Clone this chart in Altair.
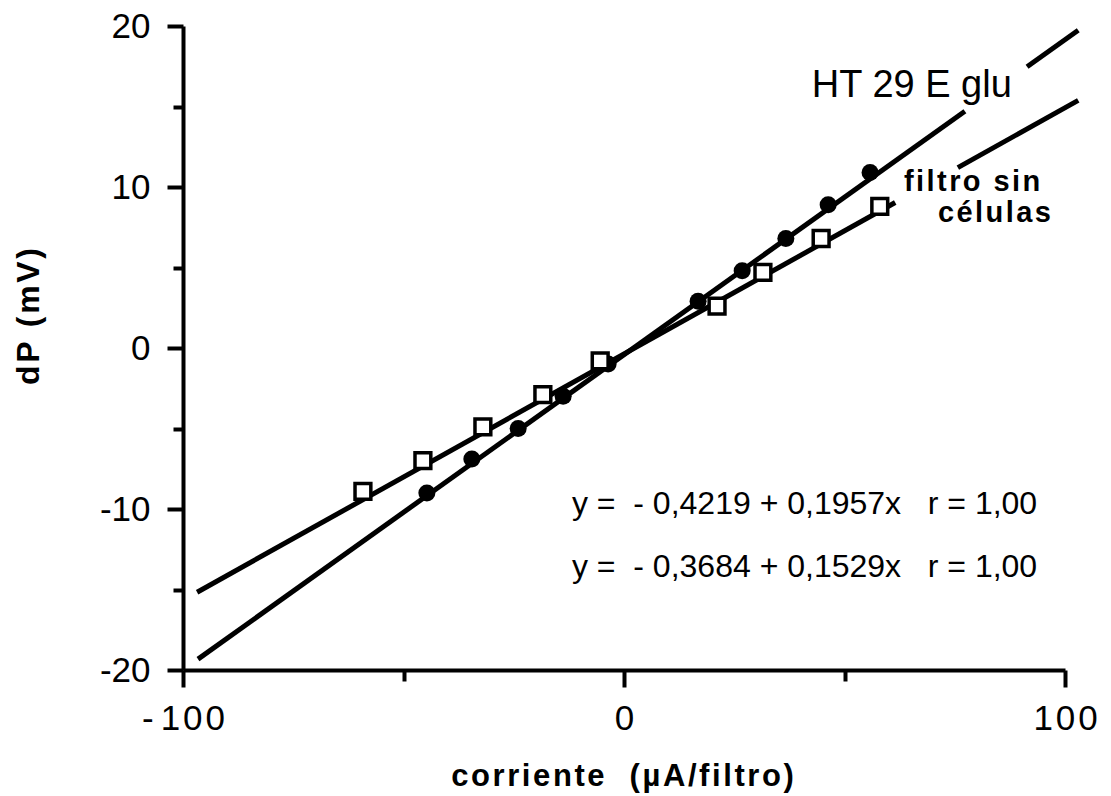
import altair as alt
import pandas as pd

# Measured points: HT 29 E glu monolayer (filled) and bare filter (open squares)
ht_x = [-44.7, -34.5, -24.0, -13.8, -3.6, 16.8, 26.8, 36.7, 46.3, 55.8]
ht_y = [-9.0, -6.9, -5.0, -3.0, -1.0, 2.9, 4.8, 6.8, 8.9, 10.9]
fil_x = [-59.2, -45.6, -32.0, -18.4, -5.4, 21.1, 31.5, 44.7, 58.0]
fil_y = [-8.9, -7.0, -4.9, -2.9, -0.8, 2.6, 4.7, 6.8, 8.8]

# Regression coefficients (intercept, slope) as printed on the chart
ht_fit = (-0.4219, 0.1957)
fil_fit = (-0.3684, 0.1529)

# x spans of the fitted lines (broken where the labels sit)
ht_spans = [(-96.6, 77.3), (91.4, 103.0)]
fil_spans = [(-96.8, 61.5), (75.7, 103.0)]

FONT = "Liberation Sans"
HAIR = "\u200a"
NBSP = "\u00a0"


def tracked(s):
    """Spread a string out with hair spaces between its characters."""
    return HAIR.join(s.replace(" ", NBSP))


rows = []
for name, (a, b), spans in [("ht", ht_fit, ht_spans), ("fil", fil_fit, fil_spans)]:
    for i, (x0, x1) in enumerate(spans):
        for x in (x0, x1):
            rows.append({"x": x, "y": a + b * x, "seg": f"{name}{i}"})
lines_df = pd.DataFrame(rows)
ht_df = pd.DataFrame({"x": ht_x, "y": ht_y})
fil_df = pd.DataFrame({"x": fil_x, "y": fil_y})

xs = alt.Scale(domain=[-100, 100], nice=False, zero=False)
ys = alt.Scale(domain=[-20, 20], nice=False, zero=False)

x_label_expr = (
    "datum.value == -100 ? '-\u20091\u200a0\u200a0' : "
    "(datum.value == 100 ? '1\u200a0\u200a0' : '' + datum.value)"
)

x_main = alt.Axis(
    values=[-100, 0, 100], tickSize=17, tickWidth=4, domainWidth=4,
    domainColor="black", tickColor="black", grid=False, labelFlush=False,
    labelFont=FONT, labelFontSize=35, labelColor="black", labelPadding=14,
    labelExpr=x_label_expr,
    title=tracked("corriente  (µA/filtro)"), titleFont=FONT, titleFontSize=31,
    titleFontWeight="bold", titleColor="black",
    titleX=439, titleY=106, titleBaseline="middle", titleAlign="center",
    orient="bottom",
)
y_main = alt.Axis(
    values=[-20, -10, 0, 10, 20], tickSize=16, tickWidth=4, domainWidth=4,
    domainColor="black", tickColor="black", grid=False, labelFlush=False,
    labelFont=FONT, labelFontSize=35, labelColor="black", labelPadding=17,
    labelBaseline="middle", labelExpr="'' + datum.value",
    title=tracked("dP (mV)"), titleFont=FONT, titleFontSize=32, titleFontWeight="bold",
    titleColor="black", titleAngle=-90, titleX=-155, titleY=290,
    titleBaseline="middle", titleAlign="center",
    orient="left",
)
x_minor = alt.Axis(values=[-50, 50], tickSize=11, tickWidth=4, tickColor="black",
                   domain=False, labels=False, title=None, grid=False, orient="bottom")
y_minor = alt.Axis(values=[-15, -5, 5, 15], tickSize=10, tickWidth=4, tickColor="black",
                   domain=False, labels=False, title=None, grid=False, orient="left")

lines = alt.Chart(lines_df).mark_line(color="black", strokeWidth=5).encode(
    x=alt.X("x:Q", scale=xs, axis=x_main),
    y=alt.Y("y:Q", scale=ys, axis=y_main),
    detail="seg:N",
)

filled = alt.Chart(ht_df).mark_point(shape="circle", filled=True, color="black",
                                     size=290, opacity=1).encode(
    x=alt.X("x:Q", scale=xs, axis=x_minor),
    y=alt.Y("y:Q", scale=ys, axis=y_minor),
)

squares = alt.Chart(fil_df).mark_point(shape="square", fill="white", fillOpacity=1,
                                       stroke="black", strokeWidth=3.5, size=250,
                                       opacity=1).encode(
    x=alt.X("x:Q", scale=xs, axis=None),
    y=alt.Y("y:Q", scale=ys, axis=None),
)

ht_label = pd.DataFrame({"x": [42.6], "y": [15.6], "text": ["HT 29 E glu"]})
fil_label = pd.DataFrame({"x": [63.5, 71.2], "y": [9.75, 7.8],
                          "text": [tracked("filtro sin"), tracked("células")]})

ht_text = alt.Chart(ht_label).mark_text(
    font=FONT, fontSize=38, align="left", baseline="alphabetic", color="black"
).encode(
    x=alt.X("x:Q", scale=xs, axis=None),
    y=alt.Y("y:Q", scale=ys, axis=None),
    text="text:N",
)
fil_text = alt.Chart(fil_label).mark_text(
    font=FONT, fontSize=29, fontWeight="bold", align="left", baseline="alphabetic",
    color="black"
).encode(
    x=alt.X("x:Q", scale=xs, axis=None),
    y=alt.Y("y:Q", scale=ys, axis=None),
    text="text:N",
)


def equation(fit):
    a, b = fit
    s = f"y =  - {-a:.4f} + {b:.4f}x   r = 1,00".replace(".", ",")
    return s.replace(" ", NBSP)


eq_df = pd.DataFrame({
    "x": [-11.8, -11.8],
    "y": [-10.3, -14.2],
    "text": [equation(ht_fit), equation(fil_fit)],
})
equations = alt.Chart(eq_df).mark_text(
    font=FONT, fontSize=32, align="left", baseline="alphabetic", color="black"
).encode(
    x=alt.X("x:Q", scale=xs, axis=None),
    y=alt.Y("y:Q", scale=ys, axis=None),
    text="text:N",
)

chart = alt.layer(lines, filled, squares, ht_text, fil_text, equations).resolve_axis(
    x="independent", y="independent"
).properties(
    width=882, height=644,
    autosize=alt.AutoSizeParams(type="none"),
    padding={"left": 183, "top": 26, "right": 46, "bottom": 126},
    background="white",
).configure_view(stroke=None)

chart.save("out.html", embed_options={"renderer": "svg", "actions": False})
